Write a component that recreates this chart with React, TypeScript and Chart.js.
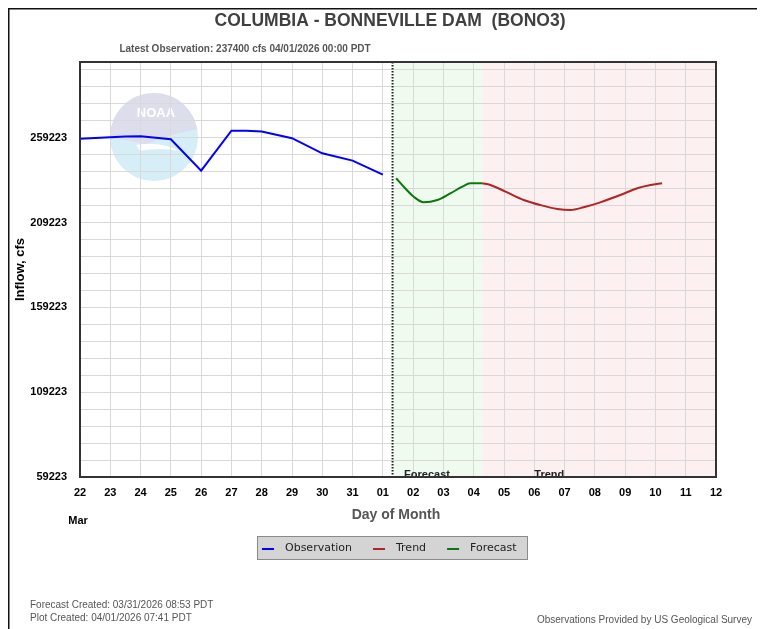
import React, { useEffect, useRef } from "react";
import { Chart, registerables } from "chart.js";

Chart.register(...registerables);

// ---------- data ----------
const dayLabels = ["22", "23", "24", "25", "26", "27", "28", "29", "30", "31", "01", "02", "03", "04", "05", "06", "07", "08", "09", "10", "11", "12"];
const monthLabel = "Mar";

// days since Mar 22 00:00
const obsDays = [0, 0.5, 1, 1.5, 2, 2.5, 3, 4, 5, 5.5, 6, 7, 8, 9, 10];
const obsValues = [258500, 259000, 259400, 259900, 260100, 259200, 258300, 239800, 263300, 263300, 262800, 258900, 250000, 245700, 237400];

const forecastDays = [10.44, 10.69, 11.02, 11.35, 11.8, 12.23, 12.62, 12.89, 13.28];
const forecastValues = [235300, 230300, 224400, 221100, 222500, 226400, 230300, 232300, 232300];

const trendDays = [13.28, 13.55, 14.05, 14.65, 15.2, 15.76, 16.2, 16.63, 17.18, 17.84, 18.4, 18.84, 19.22];
const trendValues = [232300, 231300, 227400, 222500, 219500, 217200, 216600, 218200, 221100, 225400, 229400, 231300, 232300];

const yMin = 59223;
const yMax = 303800;
const yGridStep = 10000;
const yLabelStep = 50000;

const plotCreatedDay = 10.32;
const forecastEndDay = 13.28;
const xMin = 0;
const xMax = 21;
const forecastLabelDay = 10.7;
const trendLabelDay = 15.0;

const titleText = "COLUMBIA - BONNEVILLE DAM  (BONO3)";
const subtitleText = "Latest Observation: 237400 cfs 04/01/2026 00:00 PDT";
const yTitle = "Inflow, cfs";
const xTitle = "Day of Month";
const footLeft1 = "Forecast Created: 03/31/2026 08:53 PDT";
const footLeft2 = "Plot Created: 04/01/2026 07:41 PDT";
const footRight = "Observations Provided by US Geological Survey";

const legendItems = [
  { label: "Observation", color: "#0000ff" },
  { label: "Trend", color: "#b02525" },
  { label: "Forecast", color: "#0a780a" },
];

const FONT = "'Liberation Sans', Arial, Helvetica, sans-serif";
const W = 757;
const H = 621;

function toPoints(xs: number[], ys: number[]) {
  return xs.map((x, i) => ({ x, y: ys[i] }));
}

const decorPlugin = {
  id: "decor",
  beforeDraw(chart: any) {
    const { ctx, chartArea: a, scales } = chart;
    const xs = scales.x;
    const x0 = xs.getPixelForValue(plotCreatedDay);
    const x1 = xs.getPixelForValue(forecastEndDay);
    ctx.save();
    ctx.fillStyle = "#f0fbf0";
    ctx.fillRect(x0, a.top, x1 - x0, a.bottom - a.top);
    ctx.fillStyle = "#fdf0f0";
    ctx.fillRect(x1, a.top, a.right - x1, a.bottom - a.top);

    // NOAA watermark
    const cx = a.left + 74;
    const cy = a.top + 75;
    const r = 44;
    ctx.beginPath();
    ctx.arc(cx, cy, r, 0, Math.PI * 2);
    ctx.fillStyle = "#d6eef8";
    ctx.fill();
    ctx.save();
    ctx.beginPath();
    ctx.arc(cx, cy, r, 0, Math.PI * 2);
    ctx.clip();
    ctx.beginPath();
    ctx.moveTo(cx - r - 2, cy - r - 2);
    ctx.lineTo(cx + r + 2, cy - r - 2);
    ctx.lineTo(cx + r + 2, cy - 8);
    ctx.quadraticCurveTo(cx + 10, cy - 2, cx - 8, cy + 8);
    ctx.quadraticCurveTo(cx - 25, cy + 2, cx - r - 2, cy + 2);
    ctx.closePath();
    ctx.fillStyle = "#dcdeeb";
    ctx.fill();
    // gull
    ctx.beginPath();
    ctx.moveTo(cx - 18, cy + 8);
    ctx.quadraticCurveTo(cx + 5, cy + 4, cx + 26, cy + 14);
    ctx.quadraticCurveTo(cx + 5, cy + 10, cx - 14, cy + 14);
    ctx.closePath();
    ctx.fillStyle = "#ffffff";
    ctx.fill();
    ctx.restore();
    ctx.fillStyle = "#ffffff";
    ctx.font = `bold 13px ${FONT}`;
    ctx.textAlign = "center";
    ctx.textBaseline = "middle";
    ctx.fillText("NOAA", cx + 2, cy - 24);
    ctx.restore();
  },
  afterDatasetsDraw(chart: any) {
    const { ctx, chartArea: a, scales } = chart;
    const xs = scales.x;
    ctx.save();
    // dotted line
    const xd = xs.getPixelForValue(plotCreatedDay);
    ctx.strokeStyle = "#222";
    ctx.lineWidth = 2;
    ctx.setLineDash([1.5, 1.5]);
    ctx.beginPath();
    ctx.moveTo(xd, a.top);
    ctx.lineTo(xd, a.bottom);
    ctx.stroke();
    ctx.setLineDash([]);
    // region labels
    ctx.fillStyle = "#222";
    ctx.font = `bold 11px ${FONT}`;
    ctx.textAlign = "left";
    ctx.textBaseline = "alphabetic";
    ctx.fillText("Forecast", xs.getPixelForValue(forecastLabelDay), a.bottom + 0.5);
    ctx.fillText("Trend", xs.getPixelForValue(trendLabelDay), a.bottom + 0.5);
    // plot border
    ctx.strokeStyle = "#333";
    ctx.lineWidth = 2;
    ctx.strokeRect(a.left, a.top, a.right - a.left, a.bottom - a.top);
    ctx.restore();
  },
  afterDraw(chart: any) {
    const { ctx, chartArea: a } = chart;
    ctx.save();
    // outer border (left & top)
    ctx.fillStyle = "#111";
    ctx.fillRect(0, 0, W, 1.5);
    ctx.fillRect(0, 0, 1.5, H);

    // titles
    ctx.textAlign = "center";
    ctx.textBaseline = "middle";
    ctx.fillStyle = "#404040";
    ctx.font = `bold 17.5px ${FONT}`;
    ctx.fillText(titleText, 382, 13);
    ctx.fillStyle = "#555";
    ctx.font = `bold 10px ${FONT}`;
    ctx.fillText(subtitleText, 237, 41);

    // axis titles
    ctx.fillStyle = "#000";
    ctx.font = `bold 13px ${FONT}`;
    ctx.save();
    ctx.translate(12, (a.top + a.bottom) / 2);
    ctx.rotate(-Math.PI / 2);
    ctx.fillText(yTitle, 0, 0);
    ctx.restore();
    ctx.fillStyle = "#555";
    ctx.font = `bold 14px ${FONT}`;
    ctx.fillText(xTitle, (a.left + a.right) / 2 - 2, 507);
    ctx.fillStyle = "#000";
    ctx.font = `bold 11px ${FONT}`;
    ctx.fillText(monthLabel, a.left - 2, 513);

    // legend
    const bx = 249, by = 528, bw = 271, bh = 24;
    ctx.fillStyle = "#d4d4d4";
    ctx.fillRect(bx, by, bw, bh);
    ctx.strokeStyle = "#8a8a8a";
    ctx.lineWidth = 1;
    ctx.strokeRect(bx + 0.5, by + 0.5, bw - 1, bh - 1);
    ctx.font = `11px 'DejaVu Sans', ${FONT}`;
    ctx.textAlign = "left";
    let lx = bx + 5;
    const ly = by + bh / 2;
    legendItems.forEach((it) => {
      ctx.strokeStyle = it.color;
      ctx.lineWidth = 2;
      ctx.beginPath();
      ctx.moveTo(lx, ly + 1);
      ctx.lineTo(lx + 12, ly + 1);
      ctx.stroke();
      ctx.fillStyle = "#222";
      ctx.fillText(it.label, lx + 23, ly);
      lx += 23 + ctx.measureText(it.label).width + 21;
    });

    // footers
    ctx.fillStyle = "#555";
    ctx.font = `10px ${FONT}`;
    ctx.textAlign = "left";
    ctx.fillText(footLeft1, 22, 597);
    ctx.fillText(footLeft2, 22, 610);
    ctx.textAlign = "right";
    ctx.fillText(footRight, 744, 612);
    ctx.restore();
  },
};

export default function App() {
  const ref = useRef<HTMLCanvasElement | null>(null);
  useEffect(() => {
    document.body.style.overflow = "hidden";
    const canvas = ref.current;
    if (!canvas) return;
    const yTicks: number[] = [];
    for (let v = yMin; v <= yMax; v += yGridStep) yTicks.push(v);
    const chart = new Chart(canvas, {
      type: "line",
      data: {
        datasets: [
          { label: "Observation", data: toPoints(obsDays, obsValues), borderColor: "#0000ff", borderWidth: 2, pointRadius: 0, tension: 0 },
          { label: "Forecast", data: toPoints(forecastDays, forecastValues), borderColor: "#0a780a", borderWidth: 2, pointRadius: 0, cubicInterpolationMode: "monotone" },
          { label: "Trend", data: toPoints(trendDays, trendValues), borderColor: "#b02525", borderWidth: 2, pointRadius: 0, cubicInterpolationMode: "monotone" },
        ],
      },
      options: {
        responsive: false,
        animation: false,
        devicePixelRatio: 1,
        layout: { padding: { left: 0, top: 54, right: 49, bottom: 112 } },
        plugins: { legend: { display: false }, title: { display: false }, tooltip: { enabled: false } },
        scales: {
          x: {
            type: "linear",
            min: xMin,
            max: xMax,
            afterBuildTicks: (s: any) => {
              s.ticks = dayLabels.map((_, i) => ({ value: i }));
            },
            afterFit: (s: any) => {
              s.height = 40;
            },
            ticks: {
              autoSkip: false,
              maxRotation: 0,
              padding: 9,
              color: "#000",
              font: { family: FONT, size: 11, weight: "bold" },
              callback: (v: any) => dayLabels[Math.round(Number(v))] ?? "",
            },
            grid: { color: "#d9d9d9", drawTicks: false, lineWidth: 1 },
            border: { display: false },
          },
          y: {
            type: "linear",
            min: yMin,
            max: yMax,
            afterBuildTicks: (s: any) => {
              s.ticks = yTicks.map((v) => ({ value: v }));
            },
            afterFit: (s: any) => {
              s.width = 72;
            },
            ticks: {
              autoSkip: false,
              padding: 13,
              color: "#000",
              font: { family: FONT, size: 11, weight: "bold" },
              callback: (v: any) => ((Number(v) - yMin) % yLabelStep === 0 ? String(v) : ""),
            },
            grid: { color: "#d9d9d9", drawTicks: false, lineWidth: 1 },
            border: { display: false },
          },
        },
      } as any,
      plugins: [decorPlugin],
    });
    return () => chart.destroy();
  }, []);
  return <canvas ref={ref} width={W} height={H} style={{ display: "block", width: W, height: H }} />;
}
